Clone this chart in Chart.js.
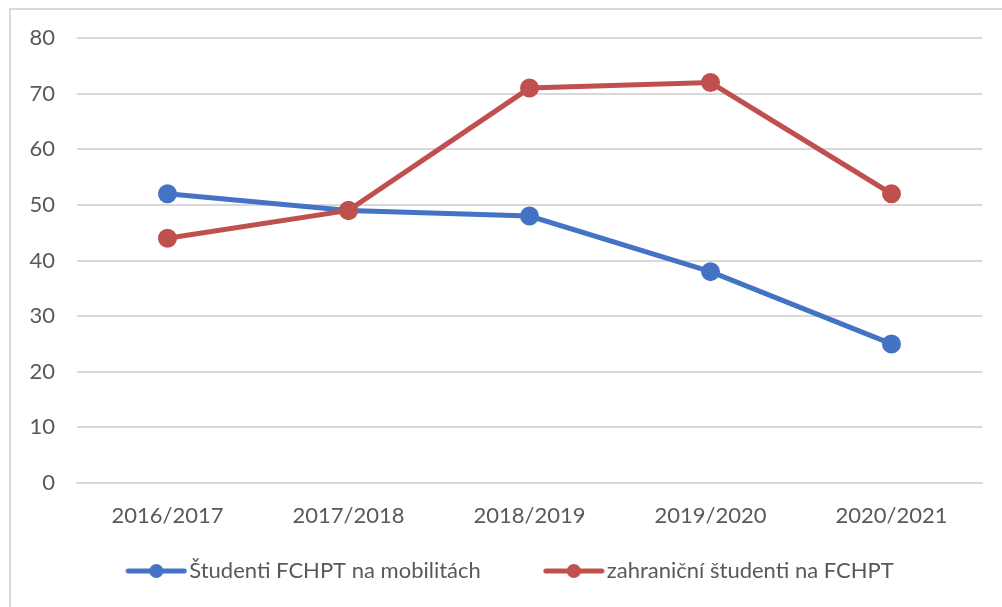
<!DOCTYPE html>
<html>
<head>
<meta charset="utf-8">
<script src="https://cdn.jsdelivr.net/npm/chart.js@4/dist/chart.umd.min.js"></script>
<style>
  html, body { margin: 0; padding: 0; background: #fff; overflow: hidden; }
  #ramik { position: absolute; left: 9px; top: 8px; width: 1100px; height: 700px;
           border-left: 2px solid #d9d9d9; border-top: 2px solid #d9d9d9; }
  #wrap { position: absolute; left: 0; top: 0; width: 1002px; height: 607px; }
</style>
</head>
<body>
<div id="ramik"></div>
<div id="wrap"><canvas id="myChart"></canvas></div>
<script>
const roky = ['2016/2017', '2017/2018', '2018/2019', '2019/2020', '2020/2021'];
const mobility = [52, 49, 48, 38, 25];
const zahranicni = [44, 49, 71, 72, 52];
const nazvy = ['Študenti FCHPT na mobilitách', 'zahraniční študenti na FCHPT'];

const modra = '#4472C4';
const cervena = '#C0504D';
const pismo = { family: 'Lato', size: 22 };

// ikonka do legendy: čiara s bodkou
function ikonka(farba) {
    const c = document.createElement('canvas');
    c.width = 62; c.height = 16;
    const g = c.getContext('2d');
    g.strokeStyle = farba;
    g.lineWidth = 5;
    g.lineCap = 'round';
    g.beginPath(); g.moveTo(3, 8); g.lineTo(59, 8); g.stroke();
    g.fillStyle = farba;
    g.beginPath(); g.arc(31, 8, 7, 0, Math.PI * 2); g.fill();
    return c;
}

// legendu posunieme trochu doprava, ako v origináli
const posunLegendy = {
    id: 'posunLegendy',
    afterLayout(chart) {
        const l = chart.legend;
        if (!l) return;
        l.left += 23;
        l.right += 23;
        (l.legendHitBoxes || []).forEach(h => { h.left += 23; });
    }
};

const ctx = document.getElementById('myChart').getContext('2d');
new Chart(ctx, {
    type: 'line',
    data: {
        labels: roky,
        datasets: [{
            label: nazvy[0],
            data: mobility,
            borderColor: modra,
            backgroundColor: modra,
            borderWidth: 5,
            pointRadius: 7,
            pointHoverRadius: 7,
            order: 1
        }, {
            label: nazvy[1],
            data: zahranicni,
            borderColor: cervena,
            backgroundColor: cervena,
            borderWidth: 5,
            pointRadius: 7,
            pointHoverRadius: 7,
            order: 0
        }]
    },
    options: {
        responsive: true,
        maintainAspectRatio: false,
        animation: false,
        layout: {
            padding: { left: 0, right: 20, top: 38, bottom: 15 }
        },
        scales: {
            x: {
                offset: true,
                afterFit: scale => { scale.height = 6; },
                grid: { display: false, drawTicks: false, offset: true },
                border: { display: true, color: '#d9d9d9', width: 2 },
                ticks: {
                    color: '#595959',
                    mirror: true,
                    padding: -46,
                    maxRotation: 0,
                    font: pismo
                }
            },
            y: {
                min: 0,
                max: 80,
                afterFit: scale => { scale.width = 77; },
                grid: { color: '#d9d9d9', lineWidth: 2, drawTicks: false },
                border: { display: false },
                ticks: {
                    stepSize: 10,
                    color: '#595959',
                    padding: 22,
                    font: pismo
                }
            }
        },
        plugins: {
            legend: {
                display: true,
                position: 'bottom',
                labels: {
                    usePointStyle: true,
                    pointStyleWidth: 44,
                    padding: 71,
                    color: '#595959',
                    font: pismo,
                    sort: (a, b) => a.datasetIndex - b.datasetIndex,
                    generateLabels: chart => chart.data.datasets.map((ds, i) => ({
                        text: ds.label,
                        fillStyle: ds.borderColor,
                        strokeStyle: ds.borderColor,
                        fontColor: '#595959',
                        lineWidth: 0,
                        pointStyle: ikonka(ds.borderColor),
                        hidden: false,
                        datasetIndex: i
                    }))
                }
            },
            tooltip: { enabled: false }
        }
    },
    plugins: [posunLegendy]
});
</script>
</body>
</html>
